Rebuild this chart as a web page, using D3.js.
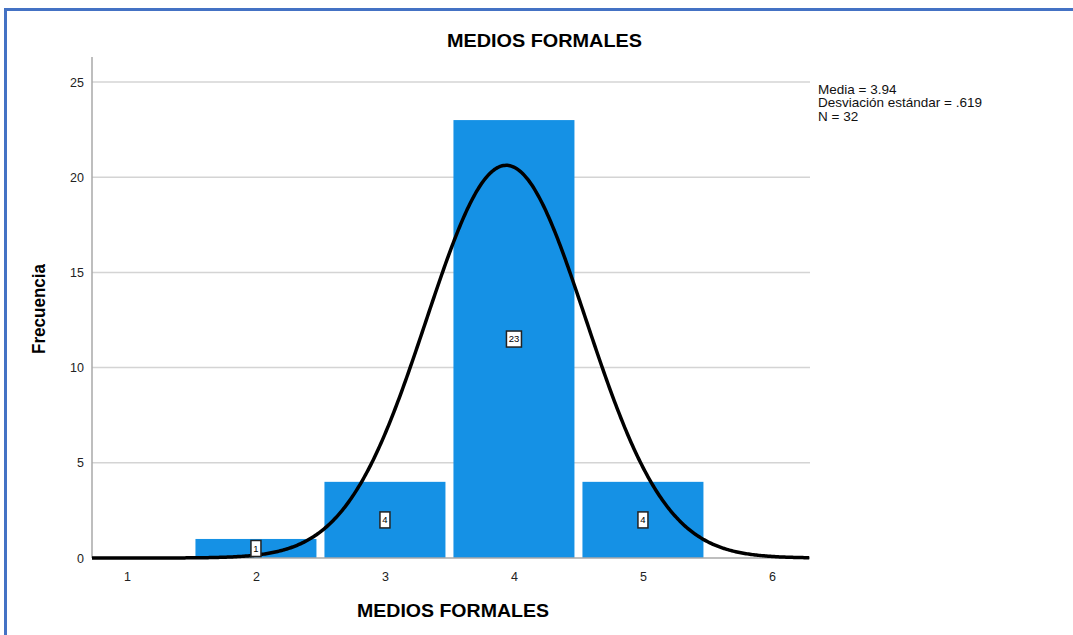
<!DOCTYPE html>
<html><head><meta charset="utf-8">
<script src="https://cdn.jsdelivr.net/npm/d3@7"></script>
<style>body{margin:0;background:#fff;}svg{display:block;}</style>
</head><body>
<svg id="c" width="1073" height="635"></svg>
<script>
const categories = [2, 3, 4, 5];
const frequencies = [1, 4, 23, 4];
const xTicks = [1, 2, 3, 4, 5, 6];
const yTicks = [0, 5, 10, 15, 20, 25];
const statsMean = 3.94;
const statsSd = 0.619;
const statsN = 32;
const statsLines = ["Media = 3.94", "Desviación estándar = .619", "N = 32"];

const svg = d3.select("#c");
svg.append("rect").attr("x",0).attr("y",0).attr("width",1073).attr("height",635).attr("fill","#fff");
svg.append("line").attr("x1",4).attr("x2",1073).attr("y1",9.5).attr("y2",9.5).attr("stroke","#4472c4").attr("stroke-width",3);
svg.append("line").attr("x1",5.5).attr("x2",5.5).attr("y1",8).attr("y2",635).attr("stroke","#4472c4").attr("stroke-width",3);

const L = 92, R = 810, T = 57, B = 558;
const x = d3.scaleLinear().domain([0.729, 6.295]).range([L, R]);
const y = d3.scaleLinear().domain([0, 25]).range([B, 82]);

svg.append("g").selectAll("line").data(yTicks.filter(d=>d>0)).join("line")
  .attr("x1",L).attr("x2",R).attr("y1",d=>y(d)).attr("y2",d=>y(d))
  .attr("stroke","#d4d4d4").attr("stroke-width",1.5);

const gap = 4;
svg.append("g").selectAll("rect").data(categories).join("rect")
  .attr("x",(d)=>x(d-0.5)+gap)
  .attr("width",(d)=>x(d+0.5)-x(d-0.5)-2*gap)
  .attr("y",(d,i)=>y(frequencies[i]))
  .attr("height",(d,i)=>y(0)-y(frequencies[i]))
  .attr("fill","#1591e5");

svg.append("line").attr("x1",L).attr("x2",L).attr("y1",T).attr("y2",B).attr("stroke","#a8a8a8").attr("stroke-width",1.5);
svg.append("line").attr("x1",L).attr("x2",R).attr("y1",B).attr("y2",B).attr("stroke","#a8a8a8").attr("stroke-width",1.5);

const yAxis = d3.axisLeft(y).tickValues(yTicks).tickSize(0).tickPadding(8);
const gy = svg.append("g").attr("transform",`translate(${L},0)`).call(yAxis);
gy.select(".domain").remove();
gy.selectAll("text").attr("font-family","Liberation Sans, Arial, sans-serif").attr("font-size",12.5).attr("fill","#222");

const xAxis = d3.axisBottom(x).tickValues(xTicks).tickSize(0).tickPadding(14).tickFormat(d3.format("d"));
const gx = svg.append("g").attr("transform",`translate(0,${B})`).call(xAxis);
gx.select(".domain").remove();
gx.selectAll("text").attr("font-family","Liberation Sans, Arial, sans-serif").attr("font-size",12.5).attr("fill","#222");

const pdf = v => statsN / (statsSd*Math.sqrt(2*Math.PI)) * Math.exp(-0.5*Math.pow((v-statsMean)/statsSd,2));
const xs = d3.range(0.729, 6.2951, 0.01);
svg.append("path").datum(xs)
  .attr("d", d3.line().x(d=>x(d)).y(d=>y(pdf(d))))
  .attr("fill","none").attr("stroke","#000").attr("stroke-width",3.5);

const lg = svg.append("g").selectAll("g").data(categories).join("g")
  .attr("transform",(d,i)=>`translate(${x(d)},${y(frequencies[i]/2)})`);
lg.append("rect").attr("x",(d,i)=>String(frequencies[i]).length>1?-7.5:-5).attr("y",-8)
  .attr("width",(d,i)=>String(frequencies[i]).length>1?15:10).attr("height",16)
  .attr("fill","#fff").attr("stroke","#222").attr("stroke-width",1.5);
lg.append("text").text((d,i)=>frequencies[i]).attr("text-anchor","middle").attr("dy","3.3")
  .attr("font-family","Liberation Sans, Arial, sans-serif").attr("font-size",9.5).attr("fill","#000");

const bold = "Liberation Sans, Arial, sans-serif";
svg.append("text").attr("x",544.5).attr("y",47).attr("text-anchor","middle")
  .attr("font-family",bold).attr("font-weight","bold").attr("font-size",18)
  .attr("textLength",195).attr("lengthAdjust","spacingAndGlyphs")
  .text("MEDIOS FORMALES");
svg.append("text").attr("x",453).attr("y",617).attr("text-anchor","middle")
  .attr("font-family",bold).attr("font-weight","bold").attr("font-size",18)
  .attr("textLength",192).attr("lengthAdjust","spacingAndGlyphs")
  .text("MEDIOS FORMALES");
svg.append("text").attr("transform","translate(45,309) rotate(-90)").attr("text-anchor","middle")
  .attr("font-family",bold).attr("font-weight","bold").attr("font-size",18)
  .attr("textLength",90).attr("lengthAdjust","spacingAndGlyphs")
  .text("Frecuencia");

svg.append("g").selectAll("text").data(statsLines).join("text")
  .attr("x",818).attr("y",(d,i)=>94+i*13.3)
  .attr("font-family","Liberation Sans, Arial, sans-serif").attr("font-size",13.5).attr("fill","#111")
  .text(d=>d);
</script>
</body></html>
